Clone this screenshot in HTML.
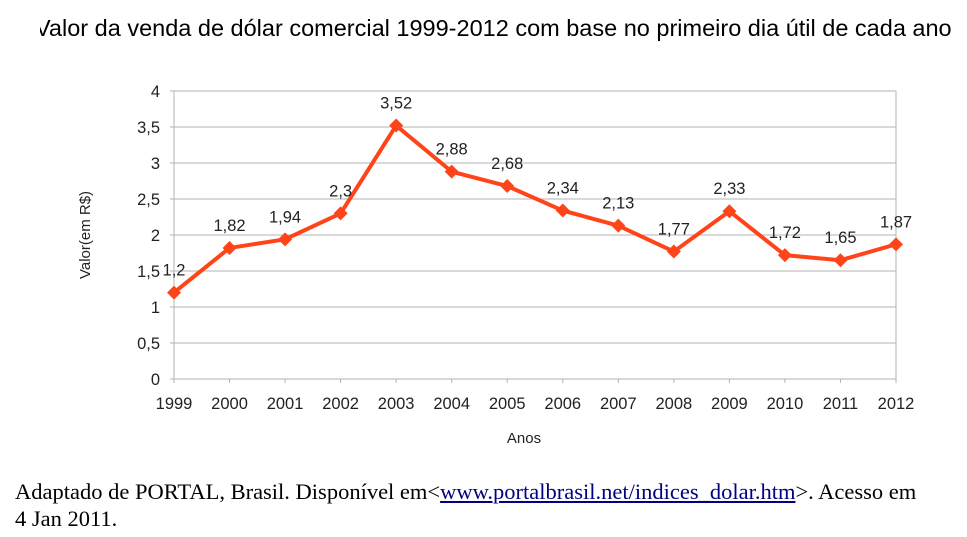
<!DOCTYPE html>
<html><head><meta charset="utf-8"><style>
body{margin:0;width:967px;height:537px;background:#fff;position:relative;overflow:hidden;font-family:"Liberation Sans",sans-serif}
#title{position:absolute;left:40px;top:15px;width:927px;overflow:hidden;white-space:nowrap;font-size:23.5px;color:#000}
#title span{position:relative;left:-5px}
#foot{position:absolute;left:15px;top:478px;width:918px;font-family:"Liberation Serif",serif;font-size:22.5px;line-height:27px;color:#000}
#foot a{color:#000080;text-decoration:underline}
</style></head><body>
<div id="title"><span>Valor da venda de dólar comercial 1999-2012 com base no primeiro dia útil de cada ano</span></div>
<svg id="chart" width="967" height="537" style="position:absolute;left:0;top:0"></svg>
<div id="foot">Adaptado de PORTAL, Brasil. Disponível em&lt;<a href="#">www.portalbrasil.net/indices_dolar.htm</a>&gt;. Acesso em 4 Jan 2011.</div>
<script>
const categories=["1999","2000","2001","2002","2003","2004","2005","2006","2007","2008","2009","2010","2011","2012"];
const values=[1.2,1.82,1.94,2.3,3.52,2.88,2.68,2.34,2.13,1.77,2.33,1.72,1.65,1.87];
const valueLabels=["1,2","1,82","1,94","2,3","3,52","2,88","2,68","2,34","2,13","1,77","2,33","1,72","1,65","1,87"];
const yTicks=[0,0.5,1,1.5,2,2.5,3,3.5,4];
const yTickLabels=["0","0,5","1","1,5","2","2,5","3","3,5","4"];
const L=174,R=896,T=91,B=379;
const xs=i=>L+i*(R-L)/(categories.length-1);
const ys=v=>B-v/4*(B-T);
const svg=document.getElementById('chart');const NS="http://www.w3.org/2000/svg";
function mk(t,a,txt){const e=document.createElementNS(NS,t);for(const k in a)e.setAttribute(k,a[k]);if(txt!==undefined)e.textContent=txt;svg.appendChild(e);return e;}
yTicks.forEach((v,i)=>{
 const g=mk('line',{x1:L-4,x2:R,y1:ys(v),y2:ys(v),stroke:'#b3b3b3','stroke-width':1});
 
 
 const t=mk('text',{x:L-14,y:ys(v)+6,'text-anchor':'end','font-size':16.5,fill:'#222'},yTickLabels[i]);
 
 
});
const ax=mk('line',{x1:L,x2:L,y1:T,y2:B+4,stroke:'#b3b3b3'});


const rb=mk('line',{x1:R,x2:R,y1:T,y2:B,stroke:'#b3b3b3'});


categories.forEach((c,i)=>{
 const tk=mk('line',{x1:xs(i),x2:xs(i),y1:B,y2:B+4,stroke:'#b3b3b3'});
 
 
 const t=mk('text',{x:xs(i),y:B+30,'text-anchor':'middle','font-size':16.5,fill:'#222'},c);
 
 
});
const line=mk('polyline',{points:values.map((v,i)=>xs(i)+','+ys(v)).join(' '),fill:'none',stroke:'#ff4419','stroke-width':4,'stroke-linejoin':'round'});


values.forEach((v,i)=>{
 const x=xs(i),y=ys(v);
 const m=mk('polygon',{points:`${x},${y-7} ${x+7},${y} ${x},${y+7} ${x-7},${y}`,fill:'#ff4419'});
 
 
 const t=mk('text',{x:x,y:y-17,'text-anchor':'middle','font-size':16.5,fill:'#222'},valueLabels[i]);
 
 
});
const xt=mk('text',{x:(L+R)/2-11,y:443,'text-anchor':'middle','font-size':15,fill:'#222'},'Anos');


const yt=mk('text',{x:0,y:0,'text-anchor':'middle','font-size':15,fill:'#222',transform:'translate(90,235) rotate(-90)'},'Valor(em R$)');


</script>
</body></html>
